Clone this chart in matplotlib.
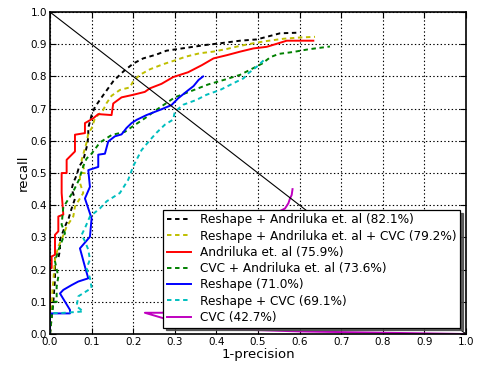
import matplotlib
matplotlib.use('Agg')
import matplotlib.pyplot as plt

# PR curves, x = 1-precision, y = recall
labels = ['Reshape + Andriluka et. al (82.1%)',
          'Reshape + Andriluka et. al + CVC (79.2%)',
          'Andriluka et. al (75.9%)',
          'CVC + Andriluka et. al (73.6%)',
          'Reshape (71.0%)',
          'Reshape + CVC (69.1%)',
          'CVC (42.7%)']

black_x = [0.0, 0.008, 0.012, 0.012, 0.02, 0.024, 0.024, 0.036, 0.045, 0.052, 0.06, 0.052, 0.056, 0.064,
           0.07, 0.08, 0.088, 0.092, 0.092, 0.1, 0.108, 0.128, 0.152, 0.176, 0.2, 0.224, 0.256, 0.28,
           0.312, 0.344, 0.376, 0.409, 0.457, 0.497, 0.521, 0.553, 0.60]
black_y = [0.0, 0.1, 0.17, 0.236, 0.236, 0.26, 0.293, 0.334, 0.36, 0.39, 0.42, 0.45, 0.47, 0.493,
           0.52, 0.54, 0.58, 0.611, 0.64, 0.68, 0.705, 0.742, 0.785, 0.815, 0.84, 0.856, 0.868, 0.88,
           0.886, 0.892, 0.898, 0.903, 0.911, 0.915, 0.923, 0.934, 0.936]

yel_x = [0.0, 0.004, 0.006, 0.008, 0.012, 0.02, 0.03, 0.04, 0.056, 0.06, 0.08, 0.072, 0.072, 0.084,
         0.076, 0.088, 0.092, 0.1, 0.108, 0.128, 0.136, 0.148, 0.168, 0.192, 0.2, 0.216, 0.24, 0.272,
         0.296, 0.328, 0.36, 0.392, 0.424, 0.457, 0.497, 0.521, 0.561, 0.601, 0.637]
yel_y = [0.0, 0.07, 0.137, 0.165, 0.231, 0.272, 0.3, 0.334, 0.365, 0.396, 0.438, 0.469, 0.5, 0.5,
         0.54, 0.595, 0.623, 0.639, 0.67, 0.696, 0.717, 0.74, 0.758, 0.766, 0.785, 0.805, 0.822, 0.838,
         0.848, 0.862, 0.872, 0.877, 0.885, 0.895, 0.905, 0.91, 0.917, 0.921, 0.923]

red_x = [0.0, 0.0, 0.004, 0.004, 0.012, 0.012, 0.02, 0.02, 0.032, 0.028, 0.028, 0.04, 0.04, 0.06,
         0.06, 0.084, 0.084, 0.104, 0.116, 0.148, 0.152, 0.172, 0.2, 0.228, 0.24, 0.268, 0.296,
         0.332, 0.365, 0.393, 0.425, 0.457, 0.489, 0.521, 0.549, 0.569, 0.633]
red_y = [0.0, 0.205, 0.205, 0.241, 0.246, 0.308, 0.319, 0.365, 0.371, 0.438, 0.5, 0.5, 0.541, 0.567,
         0.619, 0.624, 0.655, 0.67, 0.683, 0.68, 0.716, 0.735, 0.743, 0.752, 0.763, 0.777, 0.798,
         0.813, 0.835, 0.856, 0.866, 0.877, 0.887, 0.892, 0.903, 0.911, 0.911]

grn_x = [0.0, 0.004, 0.008, 0.016, 0.016, 0.02, 0.012, 0.02, 0.036, 0.028, 0.032, 0.036, 0.056, 0.07,
         0.08, 0.088, 0.1, 0.12, 0.148, 0.18, 0.2, 0.228, 0.26, 0.3, 0.34, 0.38, 0.42, 0.457, 0.48,
         0.51, 0.53, 0.55, 0.585, 0.62, 0.673]
grn_y = [0.0, 0.055, 0.1, 0.1, 0.147, 0.178, 0.226, 0.26, 0.313, 0.34, 0.395, 0.402, 0.443, 0.48,
         0.521, 0.545, 0.56, 0.595, 0.618, 0.628, 0.646, 0.67, 0.70, 0.735, 0.755, 0.775, 0.79, 0.805,
         0.82, 0.84, 0.86, 0.87, 0.876, 0.884, 0.893]

blu_x = [0.0, 0.0, 0.048, 0.048, 0.024, 0.032, 0.052, 0.068, 0.092, 0.084, 0.072, 0.096, 0.1, 0.084,
         0.096, 0.092, 0.116, 0.116, 0.132, 0.14, 0.156, 0.172, 0.184, 0.196, 0.208, 0.232, 0.268,
         0.292, 0.308, 0.333, 0.345, 0.357, 0.368]
blu_y = [0.0, 0.064, 0.064, 0.075, 0.126, 0.137, 0.152, 0.163, 0.173, 0.209, 0.266, 0.302, 0.359,
         0.421, 0.457, 0.509, 0.519, 0.557, 0.56, 0.598, 0.614, 0.62, 0.64, 0.655, 0.665, 0.68, 0.698,
         0.711, 0.732, 0.758, 0.77, 0.789, 0.8]

cyn_x = [0.0, 0.0, 0.024, 0.08, 0.064, 0.068, 0.1, 0.096, 0.088, 0.096, 0.092, 0.084, 0.076, 0.084,
         0.096, 0.12, 0.136, 0.168, 0.188, 0.2, 0.22, 0.24, 0.256, 0.276, 0.296, 0.3, 0.32, 0.352,
         0.376, 0.409, 0.441, 0.465, 0.477, 0.497, 0.516]
cyn_y = [0.0, 0.065, 0.065, 0.07, 0.086, 0.117, 0.143, 0.174, 0.205, 0.231, 0.262, 0.288, 0.308, 0.329,
         0.365, 0.39, 0.412, 0.438, 0.479, 0.521, 0.571, 0.602, 0.625, 0.65, 0.666, 0.69, 0.712, 0.727,
         0.743, 0.758, 0.779, 0.794, 0.81, 0.83, 0.853]

mag_x = [1.0, 0.8, 0.6, 0.45, 0.34, 0.3, 0.27, 0.228, 0.27, 0.3, 0.35, 0.42, 0.48, 0.537, 0.553,
         0.565, 0.573, 0.577, 0.581, 0.583]
mag_y = [0.0, 0.004, 0.008, 0.014, 0.02, 0.04, 0.05, 0.066, 0.066, 0.08, 0.12, 0.2, 0.3, 0.377, 0.382,
         0.39, 0.406, 0.421, 0.432, 0.45]

plt.rcParams['lines.scale_dashes'] = False
dash = (0, (3.2, 2.6))

fig = plt.figure(figsize=(4.78, 3.66), dpi=100)
ax = fig.add_axes([0.1046, 0.0874, 0.8703, 0.8797])

lw = 1.4
ax.plot(black_x, black_y, color='k', ls=dash, lw=lw, label=labels[0])
ax.plot(yel_x, yel_y, color=(0.75, 0.75, 0), ls=dash, lw=lw, label=labels[1])
ax.plot(red_x, red_y, color='r', lw=lw, label=labels[2])
ax.plot(grn_x, grn_y, color=(0, 0.5, 0), ls=dash, lw=lw, label=labels[3])
ax.plot(blu_x, blu_y, color='b', lw=lw, label=labels[4])
ax.plot(cyn_x, cyn_y, color=(0, 0.75, 0.75), ls=dash, lw=lw, label=labels[5])
ax.plot(mag_x, mag_y, color=(0.75, 0, 0.75), lw=lw, label=labels[6])
ax.plot([0, 1], [1, 0], color='k', lw=0.8)

ax.set_xlim(0, 1)
ax.set_ylim(0, 1)
ax.set_xticks([i / 10 for i in range(11)])
ax.set_yticks([i / 10 for i in range(11)])
ax.tick_params(direction='in', top=True, right=True, length=4, labelsize=7.5, pad=2)
ax.grid(True, ls=':', color='k', lw=0.8)
for s in ax.spines.values():
    s.set_linewidth(1.2)

ax.set_xlabel('1-precision', fontsize=9.5, labelpad=1)
ax.set_ylabel('recall', fontsize=9.5, labelpad=1)

leg = ax.legend(loc='lower right', bbox_to_anchor=(0.985, 0.02), fontsize=8.7,
                shadow={'color': '0.3', 'alpha': 0.9}, fancybox=False, framealpha=1,
                edgecolor='k', labelspacing=0.27, handlelength=2.0, borderpad=0.3,
                handletextpad=0.7, borderaxespad=0)
leg.set_zorder(10)
leg.get_frame().set_linewidth(0.9)

fig.savefig('out.png', dpi=100)
